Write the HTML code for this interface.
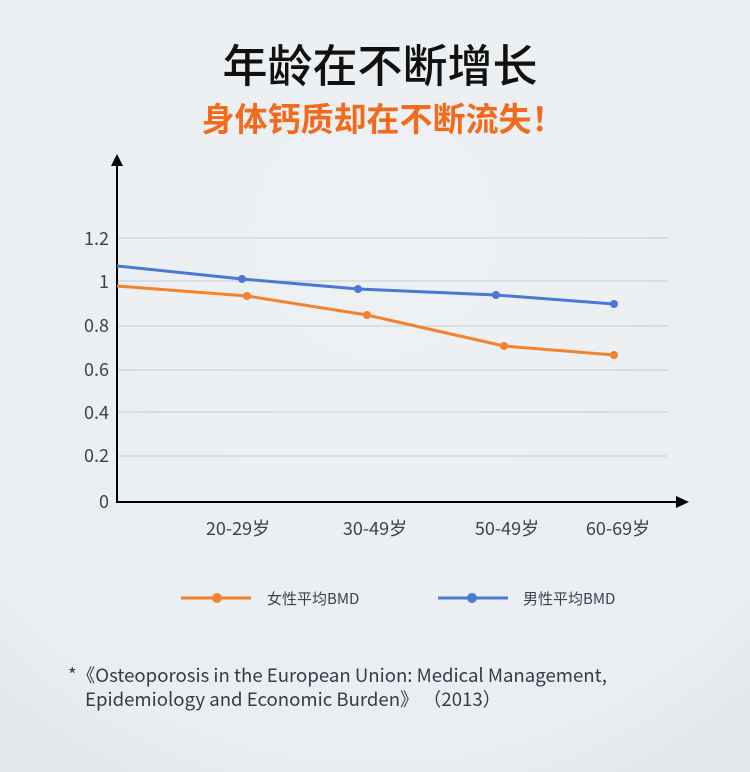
<!DOCTYPE html>
<html><head><meta charset="utf-8"><style>
body{margin:0;width:750px;height:772px;overflow:hidden;background:#ebeff2;font-family:"Noto Sans CJK SC",sans-serif;}
</style></head><body>
<svg width="750" height="772" xmlns="http://www.w3.org/2000/svg" style="position:absolute;left:0;top:0;font-family:'Noto Sans CJK SC',sans-serif">
<defs><radialGradient id="g" cx="50%" cy="30%" r="80%"><stop offset="0" stop-color="#eef1f4"/><stop offset="0.85" stop-color="#eaeef1"/><stop offset="1" stop-color="#e3e7ea"/></radialGradient></defs>
<rect width="750" height="772" fill="url(#g)"/>
<text x="380" y="82" text-anchor="middle" font-size="45" font-weight="500" fill="#111">年龄在不断增长</text>
<text x="383" y="131" text-anchor="middle" font-size="33" font-weight="700" fill="#f26a1b">身体钙质却在不断流失！</text>
<g stroke="#c9cdd1" stroke-width="1">
<line x1="117" x2="667" y1="238" y2="238"/><line x1="117" x2="667" y1="281" y2="281"/><line x1="117" x2="667" y1="326" y2="326"/><line x1="117" x2="667" y1="370" y2="370"/><line x1="117" x2="667" y1="412" y2="412"/><line x1="117" x2="667" y1="456" y2="456"/>
</g>
<g font-size="18" fill="#3a4250" text-anchor="end">
<text x="109" y="245">1.2</text><text x="109" y="288">1</text><text x="109" y="332">0.8</text><text x="109" y="376">0.6</text><text x="109" y="419">0.4</text><text x="109" y="462">0.2</text><text x="109" y="508">0</text>
</g>
<line x1="117" y1="162" x2="117" y2="502" stroke="#000" stroke-width="2"/>
<polygon points="117,154 111,166 123,166" fill="#000"/>
<line x1="116" y1="502" x2="680" y2="502" stroke="#000" stroke-width="2"/>
<polygon points="689,502 676,496 676,508" fill="#000"/>
<polyline points="117,266 242,279 358,289 496,295 614,304" fill="none" stroke="#4a78d4" stroke-width="3"/>
<g fill="#4a78d4"><circle cx="242" cy="279" r="4"/><circle cx="358" cy="289" r="4"/><circle cx="496" cy="295" r="4"/><circle cx="614" cy="304" r="4"/></g>
<polyline points="117,286 247,296 367,315 504,346 614,355" fill="none" stroke="#f2822d" stroke-width="3"/>
<g fill="#f2822d"><circle cx="247" cy="296" r="4"/><circle cx="367" cy="315" r="4"/><circle cx="504" cy="346" r="4"/><circle cx="614" cy="355" r="4"/></g>
<g font-size="18" fill="#3a4250" text-anchor="middle">
<text x="238" y="535">20-29岁</text><text x="375" y="535">30-49岁</text><text x="507" y="535">50-49岁</text><text x="618" y="535">60-69岁</text>
</g>
<line x1="181" y1="598" x2="251" y2="598" stroke="#f2822d" stroke-width="3"/><circle cx="217" cy="598" r="5" fill="#f2822d"/>
<text x="267" y="604" font-size="15" fill="#3a4250">女性平均BMD</text>
<line x1="438" y1="598" x2="508" y2="598" stroke="#4a78d4" stroke-width="3"/><circle cx="472" cy="598" r="5" fill="#4a78d4"/>
<text x="523" y="604" font-size="15" fill="#3a4250">男性平均BMD</text>
<text x="68" y="682" font-size="18.6" fill="#333d4a">*《Osteoporosis in the European Union: Medical Management,</text>
<text x="85" y="706" font-size="18.6" fill="#333d4a">Epidemiology and Economic Burden》 （2013）</text>
</svg>
</body></html>
